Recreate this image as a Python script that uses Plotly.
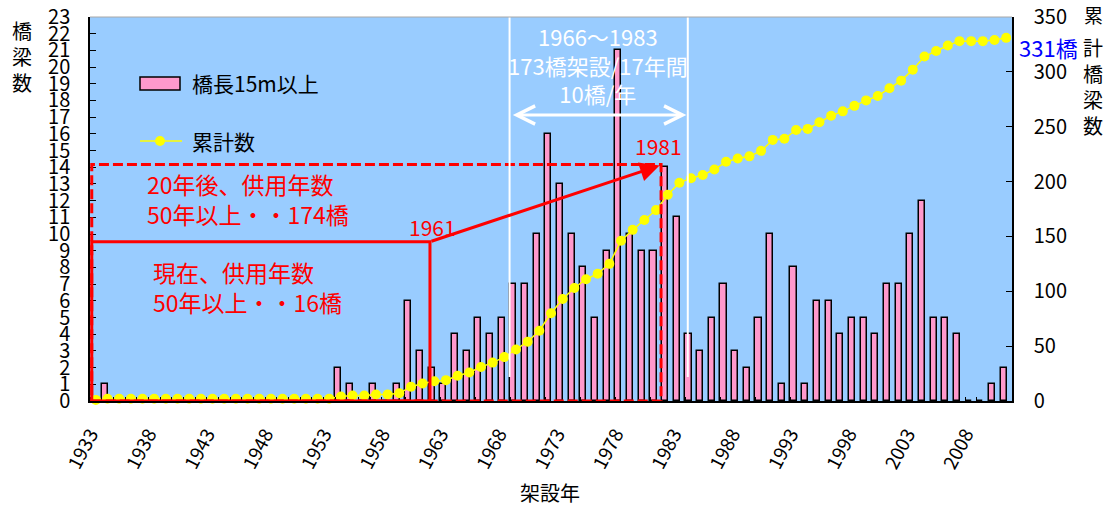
import plotly.graph_objects as go

# 架設年ごとの橋梁数（橋長15m以上）と累計数
years = list(range(1933, 2012))
bridges = [
    0, 1, 0, 0, 0, 0, 0, 0, 0, 0,        # 1933-1942
    0, 0, 0, 0, 0, 0, 0, 0, 0, 0,        # 1943-1952
    0, 2, 1, 0, 1, 0, 1, 6, 3, 2,        # 1953-1962
    1, 4, 3, 5, 4, 5, 7, 7, 10, 16,      # 1963-1972
    13, 10, 8, 5, 9, 21, 10, 9, 9, 14,   # 1973-1982
    11, 4, 3, 5, 7, 3, 2, 5, 10, 1,      # 1983-1992
    8, 1, 6, 6, 4, 5, 5, 4, 7, 7,        # 1993-2002
    10, 12, 5, 5, 4, 0, 0, 1, 2,         # 2003-2011
]
cumulative = [
    1, 2, 2, 2, 2, 2, 2, 2, 2, 2,                  # 1933-1942
    2, 2, 2, 2, 2, 2, 2, 2, 2, 2,                  # 1943-1952
    2, 4, 5, 5, 6, 6, 7, 13, 16, 18,               # 1953-1962
    19, 23, 26, 31, 35, 40, 47, 54, 64, 80,        # 1963-1972
    93, 103, 111, 116, 125, 146, 156, 165, 174, 188,   # 1973-1982
    199, 203, 206, 211, 218, 221, 223, 228, 238, 239,  # 1983-1992
    247, 248, 254, 260, 264, 269, 274, 278, 285, 292,  # 1993-2002
    302, 314, 319, 324, 328, 328, 328, 329, 331,       # 2003-2011
]
tick_years = [1933, 1938, 1943, 1948, 1953, 1958, 1963, 1968, 1973,
              1978, 1983, 1988, 1993, 1998, 2003, 2008]

W, H = 1111, 508
L, R, T, B = 90, 1012, 17, 401
JP = "Noto Sans CJK JP, Noto Sans, sans-serif"
RED = "#FF0000"


def px(x):
    return (x - L) / (R - L)


def py(y):
    return (B - y) / (B - T)


fig = go.Figure()
fig.add_trace(go.Bar(
    x=years, y=bridges, width=0.52, offset=-0.48, name="橋長15m以上",
    marker=dict(color="#FF99CC", line=dict(color="#000000", width=1.5)),
    yaxis="y", showlegend=False,
))
fig.add_trace(go.Scatter(
    x=years, y=cumulative, name="累計数", mode="lines+markers",
    line=dict(color="#FFFF00", width=1.5),
    marker=dict(size=10, color="#FFFF00"),
    yaxis="y2", cliponaxis=False, showlegend=False,
))

shapes = [
    # 20年後に50年以上となる範囲（破線）
    dict(type="rect", xref="x", yref="y", x0=1932.65, x1=1981.43, y0=0, y1=14.17,
         line=dict(color=RED, width=3, dash="10px,4px"), layer="above"),
    # 現在50年以上の範囲（実線）
    dict(type="rect", xref="x", yref="y", x0=1932.65, x1=1961.63, y0=0, y1=9.54,
         line=dict(color=RED, width=3), layer="above"),
    # 1966～1983 の区間
    dict(type="line", xref="x", yref="y", x0=1968.45, x1=1968.45, y0=1.44, y1=23,
         line=dict(color="#FFFFFF", width=2), layer="above"),
    dict(type="line", xref="x", yref="y", x0=1983.72, x1=1983.72, y0=1.44, y1=23,
         line=dict(color="#FFFFFF", width=2), layer="above"),
    # 上枠
    dict(type="line", xref="paper", yref="paper", x0=0, x1=1, y0=1, y1=1,
         line=dict(color="#A8A8A8", width=1), layer="above"),
    # 凡例
    dict(type="rect", xref="paper", yref="paper", x0=px(140), x1=px(180), y0=py(90), y1=py(77),
         fillcolor="#FF99CC", line=dict(color="#000000", width=1.5)),
    dict(type="line", xref="paper", yref="paper", x0=px(140), x1=px(182), y0=py(141), y1=py(141),
         line=dict(color="#FFFF00", width=1.5)),
    dict(type="circle", xref="paper", yref="paper", x0=px(155), x1=px(165), y0=py(146), y1=py(136),
         fillcolor="#FFFF00", line=dict(color="#FFFF00", width=0)),
]

ann = []


def text(x, y, s, size, color="#000000", xanchor="center", align="center"):
    ann.append(dict(x=px(x), y=py(y), xref="paper", yref="paper", text=s, showarrow=False,
                    xanchor=xanchor, yanchor="middle", align=align,
                    font=dict(family=JP, size=size, color=color)))


# 軸タイトル
text(22, 57, "橋<br>梁<br>数", 20)
text(1093, 14, "累", 19)
text(1093, 86, "計<br>橋<br>梁<br>数", 20)
text(550, 492, "架設年", 20)
text(1048, 47, "331橋", 22, color="#0000FF")

# 凡例テキスト
text(190, 83, "橋長15m以上", 21, xanchor="left", align="left")
text(190, 141, "累計数", 21, xanchor="left", align="left")

# 注記
text(598, 64, "1966～1983<br>173橋架設/17年間<br>10橋/年", 22, color="#FFFFFF")
text(145, 199, "20年後、供用年数<br>50年以上・・174橋", 23, color=RED, xanchor="left", align="left")
text(151, 287, "現在、供用年数<br>50年以上・・16橋", 23, color=RED, xanchor="left", align="left")
text(432, 227, "1961", 21, color=RED)
text(658, 146, "1981", 21, color=RED)

# 矢印
ann.append(dict(x=1983.6, y=17.13, ax=1968.6, ay=17.13, xref="x", yref="y", axref="x", ayref="y",
                text="", showarrow=True, arrowside="end+start", arrowhead=5, startarrowhead=5,
                arrowsize=1.2, startarrowsize=1.2, arrowwidth=3, arrowcolor="#FFFFFF"))
ann.append(dict(x=1981.3, y=14.1, ax=1961.63, ay=9.54, xref="x", yref="y", axref="x", ayref="y",
                text="", showarrow=True, arrowhead=2, arrowsize=1.3, arrowwidth=3, arrowcolor=RED))

fig.update_layout(
    width=W, height=H,
    margin=dict(l=L, r=W - R, t=T, b=H - B, pad=0, autoexpand=False),
    paper_bgcolor="#FFFFFF",
    plot_bgcolor="#99CCFF",
    bargap=0,
    showlegend=False,
    font=dict(family=JP, color="#000000"),
    xaxis=dict(
        range=[1932.5, 2011.5], tickmode="array", tickvals=[y - 0.45 for y in tick_years],
        ticktext=[str(y) for y in tick_years], tickangle=-62,
        tickfont=dict(family=JP, size=19), ticks="", ticklabelstandoff=13,
        showline=True, linecolor="#000000", linewidth=1.5,
        showgrid=False, zeroline=False, automargin=False,
        minor=dict(ticks="inside", tickmode="linear", tick0=1932.5, dtick=1,
                   ticklen=4, tickcolor="#000000", tickwidth=1, showgrid=False),
    ),
    yaxis=dict(
        range=[0, 23], dtick=1, ticks="inside", ticklen=6, tickcolor="#000000",
        tickfont=dict(family=JP, size=20), ticklabelstandoff=14,
        showline=True, linecolor="#000000", linewidth=1.5,
        showgrid=False, zeroline=False, automargin=False,
    ),
    yaxis2=dict(
        range=[0, 350], dtick=50, overlaying="y", side="right",
        ticks="inside", ticklen=6, tickcolor="#000000",
        tickfont=dict(family=JP, size=20), ticklabelstandoff=16,
        showline=True, linecolor="#000000", linewidth=1.5,
        showgrid=False, zeroline=False, automargin=False,
    ),
    shapes=shapes,
    annotations=ann,
)

fig.write_html("out.html")
